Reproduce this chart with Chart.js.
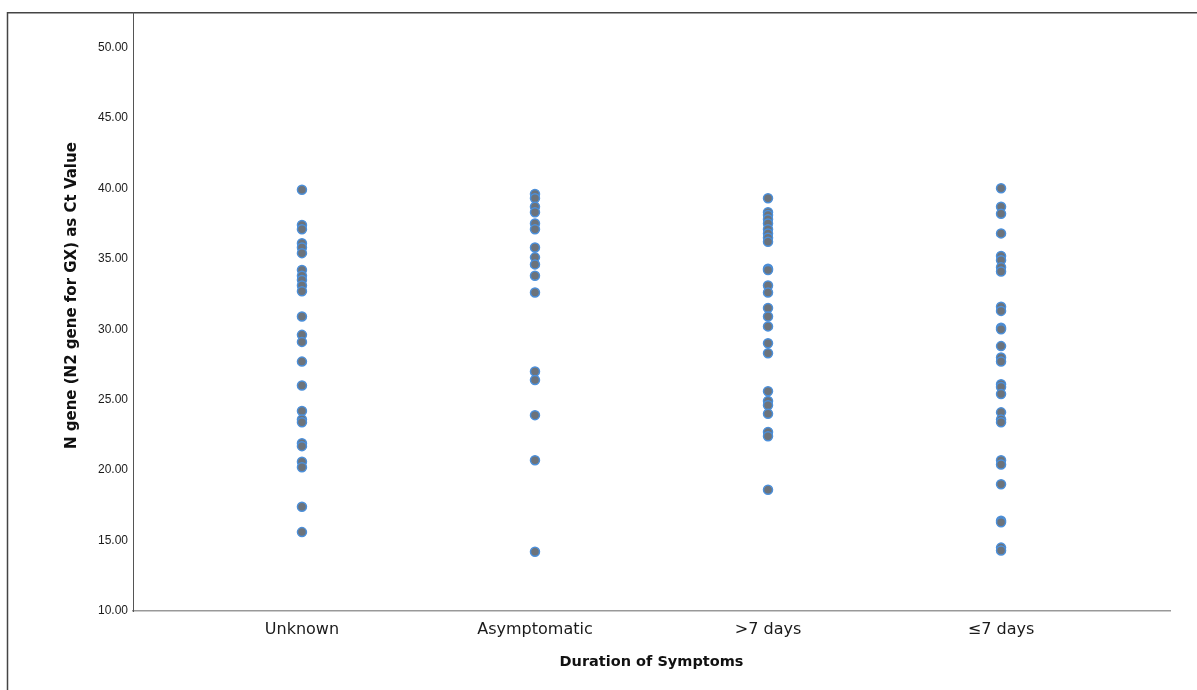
<!DOCTYPE html>
<html>
<head>
<meta charset="utf-8">
<script src="https://cdn.jsdelivr.net/npm/chart.js@4.4.1/dist/chart.umd.min.js"></script>
<style>
  html, body { margin: 0; padding: 0; background: #fff; }
  #wrap { width: 1197px; height: 690px; position: relative; }
</style>
</head>
<body>
<div id="wrap"><canvas id="ct-chart"></canvas></div>
<script>
// Ct values per symptom-duration group
const categories = ['Unknown', 'Asymptomatic', '>7 days', '≤7 days'];
const unknownCt = [39.9, 37.4, 37.1, 36.1, 35.8, 35.4, 34.2, 33.8, 33.5, 33.1, 32.7, 30.9, 29.6, 29.1, 27.7,
  26.0, 24.2, 23.6, 23.4, 21.9, 21.7, 20.6, 20.2, 17.4, 15.6];
const asymptomaticCt = [39.6, 39.3, 38.7, 38.3, 37.5, 37.1, 35.8, 35.1, 34.6, 33.8, 32.6, 27.0, 26.4, 23.9, 20.7, 14.2];
const over7Ct = [39.3, 38.3, 38.1, 37.8, 37.5, 37.1, 36.8, 36.5, 36.2, 34.3, 34.2, 33.1, 32.6, 31.5, 30.9, 30.2,
  29.0, 28.3, 25.6, 24.9, 24.6, 24.0, 22.7, 22.4, 18.6];
const under7Ct = [40.0, 38.7, 38.2, 36.8, 35.2, 34.9, 34.4, 34.1, 31.6, 31.3, 30.1, 30.0, 28.8, 28.0, 27.7,
  26.1, 25.9, 25.4, 24.1, 23.6, 23.4, 20.7, 20.4, 19.0, 16.4, 16.3, 14.5, 14.3];
const yTicks = [10, 15, 20, 25, 30, 35, 40, 45, 50];
const yMin = 10, yMax = 52.5;
const yTitle = 'N gene (N2 gene for GX) as Ct Value';

const groups = [unknownCt, asymptomaticCt, over7Ct, under7Ct];
const points = [];
groups.forEach((vals, i) => vals.forEach(v => points.push({ x: i, y: v })));

// outer frame like the SPSS export + y title sitting a bit above centre
const framePlugin = {
  id: 'frame',
  beforeDraw(chart) {
    const c = chart.ctx;
    c.save();
    c.strokeStyle = '#444';
    c.lineWidth = 1.5;
    c.beginPath();
    c.moveTo(7.5, chart.height);
    c.lineTo(7.5, chart.chartArea.top + 0.5);
    c.lineTo(chart.width, chart.chartArea.top + 0.5);
    c.stroke();
    c.restore();
  },
  afterDraw(chart) {
    const c = chart.ctx;
    const { top, bottom } = chart.chartArea;
    c.save();
    c.translate(72, (top + bottom) / 2 - 16);
    c.rotate(-Math.PI / 2);
    c.textAlign = 'center';
    c.textBaseline = 'middle';
    c.fillStyle = '#111';
    c.font = 'bold 15px "DejaVu Sans"';
    c.fillText(yTitle, 0, 0);
    c.restore();
  }
};

new Chart(document.getElementById('ct-chart'), {
  type: 'scatter',
  data: {
    datasets: [{
      data: points,
      pointRadius: 4.5,
      backgroundColor: '#6c737b',
      borderColor: '#4b8fda',
      borderWidth: 1.5,
    }]
  },
  options: {
    responsive: true, maintainAspectRatio: false, animation: false,
    layout: { padding: { left: 7, top: 12, right: 27, bottom: 0 } },
    plugins: { legend: { display: false }, tooltip: { enabled: false } },
    scales: {
      x: {
        type: 'linear', min: -0.725, max: 3.725,
        afterBuildTicks: axis => { axis.ticks = categories.map((c, i) => ({ value: i })); },
        afterFit: axis => { axis.height = 79; },
        grid: { drawOnChartArea: false, drawTicks: false },
        border: { color: '#999', width: 1.5 },
        ticks: {
          callback: v => categories[v], color: '#1a1a1a', autoSkip: false, maxRotation: 0, padding: 9,
          font: { family: 'DejaVu Sans', size: 16 }
        },
        title: {
          display: true, text: 'Duration of Symptoms', color: '#111',
          font: { family: 'DejaVu Sans', size: 14.5, weight: 'bold' },
          padding: { top: 0, bottom: 19 }
        }
      },
      y: {
        min: yMin, max: yMax,
        afterBuildTicks: axis => { axis.ticks = yTicks.map(v => ({ value: v })); },
        afterFit: axis => { axis.width = 126; },
        grid: { drawOnChartArea: false, drawTicks: false },
        border: { color: '#555', width: 1 },
        ticks: {
          callback: v => v.toFixed(2), color: '#1a1a1a', padding: 5,
          font: { family: 'Liberation Sans', size: 12 }
        }
      }
    }
  },
  plugins: [framePlugin]
});
</script>
</body>
</html>
